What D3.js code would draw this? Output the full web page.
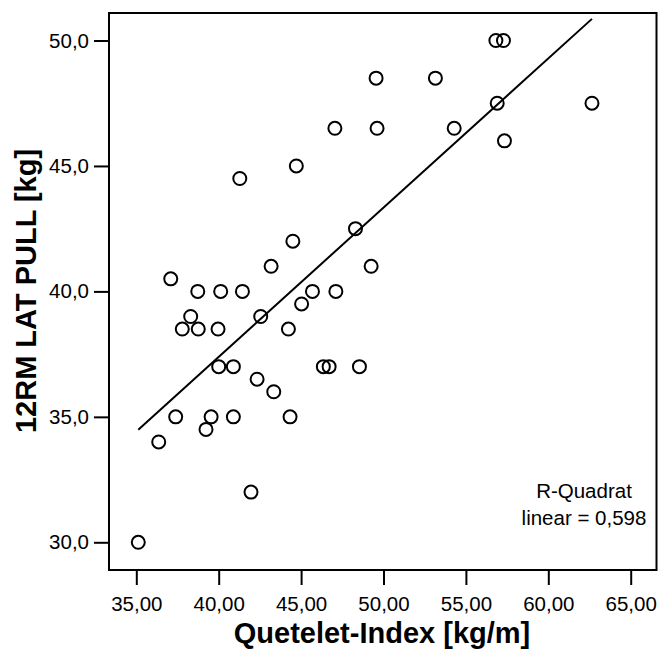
<!DOCTYPE html>
<html>
<head>
<meta charset="utf-8">
<script src="https://cdn.jsdelivr.net/npm/d3@7"></script>
<style>
  html, body { margin: 0; padding: 0; background: #fff; }
  svg { display: block; font-family: "Liberation Sans", Arial, Helvetica, sans-serif; }
</style>
</head>
<body>
<svg id="chart" width="658" height="655"></svg>
<script>
// Quetelet-Index (BMI) per subject
const queteletIndex = [
  35.12, 36.36, 37.39, 37.09, 37.79, 38.30, 38.73, 38.76, 39.23, 39.54, 39.96,
  40.00, 40.12, 40.89, 40.89, 41.44, 41.28, 41.96, 42.33, 42.55, 43.18, 43.34,
  44.23, 44.33, 44.50, 44.71, 45.03, 45.69, 46.35, 46.70, 47.05, 47.11, 48.30,
  48.54, 49.25, 49.55, 49.61, 53.15, 54.29, 56.82, 57.28, 56.90, 57.34, 62.65
];
// 12-repetition-maximum lat pull load for the same subjects
const latPull = [
  30.0, 34.0, 35.0, 40.5, 38.5, 39.0, 40.0, 38.5, 34.5, 35.0, 38.5,
  37.0, 40.0, 37.0, 35.0, 40.0, 44.5, 32.0, 36.5, 39.0, 41.0, 36.0,
  38.5, 35.0, 42.0, 45.0, 39.5, 40.0, 37.0, 37.0, 46.5, 40.0, 42.5,
  37.0, 41.0, 48.5, 46.5, 48.5, 46.5, 50.0, 50.0, 47.5, 46.0, 47.5
];
const xTicks = [35, 40, 45, 50, 55, 60, 65];
const yTicks = [30, 35, 40, 45, 50];
const xTitle = "Quetelet-Index [kg/m]";
const yTitle = "12RM LAT PULL [kg]";
const fitLabel = ["R-Quadrat", "linear = 0,598"];

const svg = d3.select("#chart");
const frame = { left: 109, top: 13, right: 656.5, bottom: 570 };

const x = d3.scaleLinear().domain([35, 65]).range([136.3, 630.7]);
const y = d3.scaleLinear().domain([30, 50]).range([542.3, 40.5]);

const fmtX = v => d3.format(".2f")(v).replace(".", ",");
const fmtY = v => d3.format(".1f")(v).replace(".", ",");

// Axes (ticks only; the frame is drawn as a box)
const xAxis = svg.append("g")
  .attr("transform", `translate(0,${frame.bottom})`)
  .call(d3.axisBottom(x).tickValues(xTicks).tickFormat(fmtX).tickSize(15).tickPadding(11));
const yAxis = svg.append("g")
  .attr("transform", `translate(${frame.left},0)`)
  .call(d3.axisLeft(y).tickValues(yTicks).tickFormat(fmtY).tickSize(15).tickPadding(5));

[xAxis, yAxis].forEach(g => {
  g.select(".domain").remove();
  g.selectAll(".tick line").attr("stroke", "#000").attr("stroke-width", 2);
  g.selectAll(".tick text")
    .attr("fill", "#000")
    .style("font-size", "20.5px")
    .style("font-family", "'Liberation Sans', Arial, sans-serif");
});

// Plot frame
svg.append("rect")
  .attr("x", frame.left).attr("y", frame.top)
  .attr("width", frame.right - frame.left).attr("height", frame.bottom - frame.top)
  .attr("fill", "none").attr("stroke", "#000").attr("stroke-width", 2);

// Least-squares fit line over the observed x range
const n = queteletIndex.length;
const mx = d3.mean(queteletIndex), my = d3.mean(latPull);
let sxy = 0, sxx = 0;
for (let i = 0; i < n; i++) {
  sxy += (queteletIndex[i] - mx) * (latPull[i] - my);
  sxx += (queteletIndex[i] - mx) ** 2;
}
const slope = sxy / sxx, intercept = my - slope * mx;
const [x0, x1] = d3.extent(queteletIndex);
svg.append("line")
  .attr("x1", x(x0)).attr("y1", y(intercept + slope * x0))
  .attr("x2", x(x1)).attr("y2", y(intercept + slope * x1))
  .attr("stroke", "#000").attr("stroke-width", 2);

// Observations
svg.append("g")
  .selectAll("circle")
  .data(d3.zip(queteletIndex, latPull))
  .join("circle")
  .attr("cx", d => x(d[0]))
  .attr("cy", d => y(d[1]))
  .attr("r", 6.5)
  .attr("fill", "none")
  .attr("stroke", "#000")
  .attr("stroke-width", 2);

// Fit annotation
svg.append("text")
  .attr("x", 584).attr("y", 498)
  .attr("text-anchor", "middle")
  .style("font-size", "20.5px")
  .selectAll("tspan")
  .data(fitLabel)
  .join("tspan")
  .attr("x", 584)
  .attr("dy", (d, i) => i === 0 ? 0 : 27)
  .text(d => d);

// Axis titles
svg.append("text")
  .attr("x", 382).attr("y", 643)
  .attr("text-anchor", "middle")
  .style("font-size", "29px").style("font-weight", "bold")
  .text(xTitle);
svg.append("text")
  .attr("transform", "translate(36,291) rotate(-90)")
  .attr("text-anchor", "middle")
  .style("font-size", "29px").style("font-weight", "bold")
  .text(yTitle);
</script>
</body>
</html>
